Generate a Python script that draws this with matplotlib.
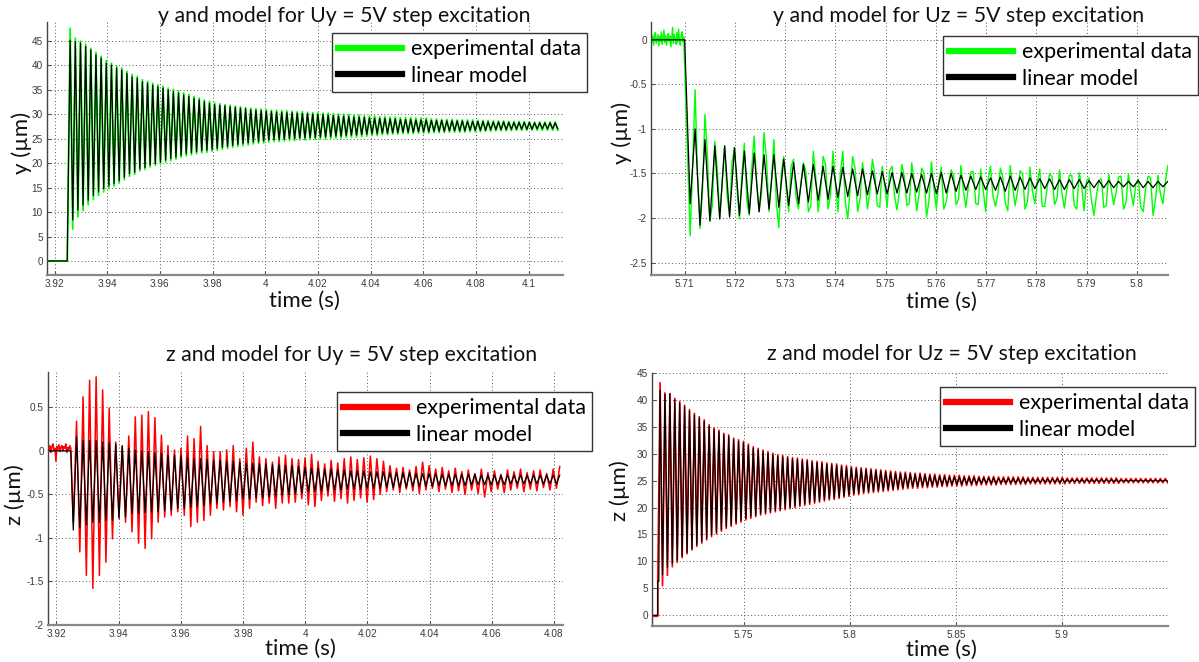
import numpy as np
import matplotlib
matplotlib.use('Agg')
import matplotlib.pyplot as plt
from matplotlib.lines import Line2D

plt.rcParams['font.family'] = ['Lato', 'DejaVu Sans']

# ---------------- data ----------------
# panel 1 : y for Uy = 5V step  (peaks / troughs of each cycle)
p1_xlim = (3.9171, 4.1131)
p1_ylim = (-2.86, 48.8)
p1_t_first = 3.9259          # first peak
p1_half = 0.00098            # half period
p1_lead_t = [3.9171, 3.9248, 3.9249]
p1_model_lead = [0.0, 0.0, 5.0]
p1_exp_lead = [0.0, 0.0, 4.9]
p1_model_pk = [45.1, 44.8, 44.5, 43.8, 43.1, 42.1, 41.4, 40.4, 40.0, 39.4,
               39.0, 38.3, 37.6, 37.3, 36.6, 36.3, 35.9, 35.6, 35.3, 34.9,
               34.6, 34.3, 33.9, 33.6, 33.2, 32.9, 32.5, 32.2, 31.9, 31.8,
               31.7, 31.5, 31.4, 31.2, 31.1, 30.9, 30.8, 30.7, 30.6, 30.5,
               30.4, 30.4, 30.3, 30.3, 30.2, 30.1, 30.1, 30.0, 29.9, 29.9,
               29.8, 29.7, 29.6, 29.6, 29.5, 29.4, 29.4, 29.3, 29.2, 29.2,
               29.1, 29.1, 29.0, 29.0, 28.9, 28.9, 28.9, 28.8, 28.8, 28.8,
               28.7, 28.7, 28.7, 28.6, 28.6, 28.6, 28.6, 28.5, 28.5, 28.5,
               28.5, 28.4, 28.4, 28.4, 28.4, 28.3, 28.3, 28.3, 28.3, 28.3,
               28.2, 28.2, 28.2, 28.2, 28.2]
p1_model_tr = [8.4, 10.4, 11.4, 12.4, 13.4, 14.1, 14.8, 15.4, 15.8, 16.4,
               17.1, 17.8, 18.1, 18.8, 19.1, 19.6, 19.9, 20.2, 20.6, 20.9,
               21.2, 21.6, 21.9, 22.1, 22.3, 22.5, 22.6, 22.8, 23.0, 23.2,
               23.4, 23.6, 23.8, 24.0, 24.1, 24.3, 24.4, 24.5, 24.7, 24.8,
               24.8, 24.9, 25.0, 25.0, 25.1, 25.1, 25.2, 25.2, 25.3, 25.3,
               25.4, 25.5, 25.5, 25.6, 25.7, 25.7, 25.8, 25.9, 26.0, 26.0,
               26.1, 26.1, 26.2, 26.2, 26.3, 26.3, 26.3, 26.4, 26.4, 26.4,
               26.5, 26.5, 26.5, 26.6, 26.6, 26.6, 26.6, 26.7, 26.7, 26.7,
               26.7, 26.8, 26.8, 26.8, 26.8, 26.9, 26.9, 26.9, 26.9, 26.9,
               27.0, 27.0, 27.0, 27.0, 27.0]
p1_exp_pk = [47.5, 45.5, 44.9, 44.3, 43.4, 42.6, 41.8, 40.9, 40.4, 39.8,
             39.4, 38.7, 38.1, 37.7, 37.0, 36.7, 36.3, 36.0, 35.7, 35.3,
             35.0, 34.7, 34.3, 34.0, 33.6, 33.3, 32.9, 32.6, 32.3, 32.1,
             31.9, 31.8, 31.6, 31.5, 31.3, 31.2, 31.1, 31.0, 30.9, 30.8,
             30.8, 30.7, 30.7, 30.6, 30.5, 30.5, 30.4, 30.3, 30.3, 30.2,
             30.2, 30.1, 30.0, 30.0, 29.9, 29.8, 29.8, 29.7, 29.6, 29.6,
             29.5, 29.5, 29.4, 29.4, 29.3, 29.3, 29.3, 29.2, 29.2, 29.2,
             29.0, 29.0, 28.9, 28.9, 28.9, 28.8, 28.8, 28.8, 28.8, 28.7,
             28.7, 28.7, 28.6, 28.6, 28.6, 28.5, 28.5, 28.5, 28.5, 28.4,
             28.4, 28.4, 28.4, 28.4, 28.4]
p1_exp_tr = [6.5, 9.0, 10.3, 11.5, 12.6, 13.4, 14.1, 14.8, 15.3, 15.9,
             16.6, 17.3, 17.7, 18.4, 18.7, 19.2, 19.5, 19.8, 20.2, 20.5,
             20.8, 21.2, 21.5, 21.7, 21.9, 22.1, 22.2, 22.4, 22.6, 22.8,
             23.0, 23.2, 23.4, 23.6, 23.7, 23.9, 24.0, 24.1, 24.3, 24.4,
             24.4, 24.5, 24.6, 24.6, 24.7, 24.7, 24.8, 24.8, 24.9, 24.9,
             25.0, 25.1, 25.1, 25.2, 25.3, 25.3, 25.4, 25.5, 25.6, 25.6,
             25.8, 25.8, 25.9, 25.9, 26.0, 26.0, 26.0, 26.1, 26.1, 26.1,
             26.2, 26.2, 26.2, 26.3, 26.3, 26.3, 26.3, 26.4, 26.4, 26.4,
             26.5, 26.5, 26.6, 26.6, 26.6, 26.6, 26.7, 26.7, 26.7, 26.7,
             26.7, 26.7, 26.7, 26.7, 26.7]
p1_xticks = [3.92, 3.94, 3.96, 3.98, 4.0, 4.02, 4.04, 4.06, 4.08, 4.1]
p1_xticklabels = ['3.92', '3.94', '3.96', '3.98', '4', '4.02', '4.04', '4.06', '4.08', '4.1']
p1_yticks = [0, 5, 10, 15, 20, 25, 30, 35, 40, 45]
p1_yticklabels = ['0', '5', '10', '15', '20', '25', '30', '35', '40', '45']

# panel 2 : y for Uz = 5V step  (troughs first)
p2_xlim = (5.7033, 5.8062)
p2_ylim = (-2.64, 0.2)
p2_t_first = 5.7111
p2_half = 0.00098
p2_model_lead_t = [5.7033, 5.7100]
p2_model_lead = [0.0, 0.0]
p2_exp_noise = [0.02, -0.03, 0.05, -0.06, 0.03, 0.08, -0.04, 0.01, 0.06, -0.07,
                0.04, -0.02, 0.09, -0.05, 0.02, 0.11, -0.03, 0.05, -0.06, 0.03,
                0.07, -0.02, 0.04, -0.08, 0.02, 0.14, -0.04, 0.06, 0.01, -0.05,
                0.08, -0.03, 0.12, 0.00, -0.06, 0.05, 0.09, -0.02, 0.03, -0.30]
p2_model_tr = [-1.84, -2.08, -2.03, -2.01, -1.99, -1.97, -1.95, -1.93, -1.90, -1.88,
               -1.86, -1.84, -1.82, -1.80, -1.79, -1.77, -1.76, -1.75, -1.74, -1.73,
               -1.73, -1.72, -1.72, -1.71, -1.72, -1.73, -1.72, -1.70, -1.69, -1.68,
               -1.68, -1.69, -1.70, -1.69, -1.68, -1.67, -1.67, -1.68, -1.68, -1.67,
               -1.67, -1.66, -1.66, -1.66, -1.65, -1.65, -1.66, -1.66, -1.65]
p2_model_pk = [-1.00, -1.12, -1.19, -1.19, -1.21, -1.25, -1.27, -1.29, -1.29, -1.34,
               -1.38, -1.40, -1.40, -1.42, -1.42, -1.43, -1.45, -1.45, -1.47, -1.48,
               -1.49, -1.49, -1.50, -1.51, -1.50, -1.49, -1.50, -1.52, -1.53, -1.54,
               -1.55, -1.54, -1.53, -1.54, -1.55, -1.56, -1.56, -1.57, -1.57, -1.57,
               -1.58, -1.58, -1.58, -1.59, -1.59, -1.58, -1.59, -1.59, -1.59]
p2_exp_tr = [-2.20, -2.12, -2.04, -2.01, -1.97, -2.01, -1.97, -1.93, -1.93, -2.11,
             -1.93, -1.90, -1.93, -1.93, -1.90, -1.93, -2.01, -1.93, -1.90, -1.86,
             -1.88, -1.91, -1.86, -1.92, -1.99, -1.90, -1.82, -1.85, -1.88, -1.84,
             -1.93, -1.87, -1.83, -1.86, -1.90, -1.84, -1.87, -1.85, -1.89, -1.86,
             -1.92, -1.97, -1.88, -1.85, -1.90, -1.86, -1.93, -1.97, -1.84]
p2_exp_pk = [-0.56, -0.84, -1.14, -1.19, -1.21, -1.16, -1.08, -1.04, -1.12, -1.31,
             -1.34, -1.38, -1.25, -1.31, -1.25, -1.25, -1.31, -1.38, -1.34, -1.42,
             -1.42, -1.40, -1.38, -1.44, -1.37, -1.43, -1.46, -1.41, -1.48, -1.45,
             -1.42, -1.44, -1.41, -1.47, -1.43, -1.45, -1.50, -1.46, -1.52, -1.49,
             -1.55, -1.58, -1.51, -1.54, -1.50, -1.56, -1.53, -1.52, -1.41]
# noisy samples between the turning points of the measured curve
p2_exp_mid = [-1.40, -1.55, -1.70, -1.30, -1.85, -1.45, -1.60, -1.75, -1.38, -1.66,
              -1.52, -1.80, -1.44, -1.62, -1.72, -1.35, -1.58, -1.83, -1.50, -1.65,
              -1.42, -1.77, -1.60, -1.48, -1.86, -1.55, -1.68, -1.40, -1.74, -1.61,
              -1.50, -1.82, -1.66, -1.45, -1.78, -1.58, -1.70, -1.52, -1.88, -1.63,
              -1.47, -1.75, -1.69, -1.55, -1.84, -1.60, -1.72, -1.50, -1.80, -1.66,
              -1.58, -1.90, -1.62, -1.52, -1.79, -1.70, -1.64, -1.48, -1.85, -1.68,
              -1.57, -1.76, -1.73, -1.55, -1.92, -1.65, -1.70, -1.50, -1.82, -1.69,
              -1.60, -1.87, -1.66, -1.54, -1.78, -1.72, -1.68, -1.52, -1.90, -1.64,
              -1.58, -1.80, -1.75, -1.56, -1.86, -1.67, -1.71, -1.53, -1.83, -1.70,
              -1.62, -1.88, -1.66, -1.55, -1.79, -1.73, -1.60, -1.50]
p2_xticks = [5.71, 5.72, 5.73, 5.74, 5.75, 5.76, 5.77, 5.78, 5.79, 5.80]
p2_xticklabels = ['5.71', '5.72', '5.73', '5.74', '5.75', '5.76', '5.77', '5.78', '5.79', '5.8']
p2_yticks = [-2.5, -2.0, -1.5, -1.0, -0.5, 0.0]
p2_yticklabels = ['-2.5', '-2', '-1.5', '-1', '-0.5', '0']

# panel 3 : z for Uy = 5V step  (troughs first)
p3_xlim = (3.91727, 4.0829)
p3_ylim = (-2.0, 0.905)
p3_t_first = 3.9254
p3_half = 0.00105
p3_model_lead_t = [3.91727, 3.9246]
p3_model_lead = [0.0, 0.0]
p3_exp_noise = [0.04, 0.01, 0.06, -0.02, 0.05, 0.08, 0.00, 0.03, -0.12, 0.05,
                0.02, 0.07, -0.01, 0.04, 0.06, 0.00, 0.05, 0.03, 0.08, -0.02,
                0.04, 0.01, 0.06, 0.03]
p3_model_tr = [-0.91, -0.88, -0.85, -0.82, -0.82, -0.80, -0.80, -0.78, -0.76, -0.72,
               -0.72, -0.71, -0.70, -0.70, -0.69, -0.68, -0.66, -0.66, -0.65, -0.64,
               -0.63, -0.61, -0.60, -0.59, -0.58, -0.57, -0.55, -0.55, -0.54, -0.54,
               -0.53, -0.52, -0.51, -0.50, -0.49, -0.48, -0.47, -0.47, -0.46, -0.46,
               -0.45, -0.45, -0.44, -0.44, -0.44, -0.43, -0.43, -0.43, -0.42, -0.42,
               -0.42, -0.42, -0.41, -0.41, -0.41, -0.41, -0.40, -0.40, -0.40, -0.40,
               -0.40, -0.39, -0.39, -0.39, -0.39, -0.39, -0.39, -0.38, -0.38, -0.38,
               -0.38, -0.38, -0.38, -0.38, -0.38]
p3_model_pk = [0.16, 0.12, 0.12, 0.12, 0.10, 0.09, 0.08, 0.06, 0.03, 0.01,
               0.00, -0.01, -0.02, -0.03, -0.05, -0.05, -0.06, -0.08, -0.09, -0.09,
               -0.10, -0.11, -0.11, -0.12, -0.12, -0.13, -0.14, -0.14, -0.15, -0.15,
               -0.16, -0.16, -0.17, -0.17, -0.18, -0.19, -0.20, -0.20, -0.21, -0.21,
               -0.22, -0.22, -0.23, -0.23, -0.23, -0.24, -0.24, -0.24, -0.25, -0.25,
               -0.25, -0.25, -0.26, -0.26, -0.26, -0.26, -0.27, -0.27, -0.27, -0.27,
               -0.27, -0.27, -0.28, -0.28, -0.28, -0.28, -0.28, -0.28, -0.28, -0.28,
               -0.28, -0.28, -0.28, -0.28, -0.28]
p3_exp_tr = [-0.82, -1.16, -1.43, -1.58, -1.43, -1.28, -1.01, -0.76, -0.82, -0.93,
             -1.06, -1.12, -1.01, -0.82, -0.76, -0.74, -0.70, -0.74, -0.87, -0.82,
             -0.80, -0.74, -0.66, -0.68, -0.64, -0.70, -0.74, -0.66, -0.59, -0.63,
             -0.60, -0.66, -0.60, -0.60, -0.59, -0.55, -0.62, -0.64, -0.57, -0.52,
             -0.58, -0.55, -0.60, -0.57, -0.54, -0.59, -0.56, -0.50, -0.47, -0.45,
             -0.48, -0.44, -0.46, -0.49, -0.45, -0.43, -0.47, -0.44, -0.48, -0.46,
             -0.50, -0.45, -0.49, -0.53, -0.47, -0.44, -0.48, -0.45, -0.43, -0.47,
             -0.44, -0.46, -0.42, -0.45, -0.43]
p3_exp_pk = [0.34, 0.62, 0.81, 0.85, 0.70, 0.49, 0.10, 0.05, 0.17, 0.39,
             0.41, 0.45, 0.38, 0.18, 0.06, 0.01, 0.03, 0.17, 0.14, 0.28,
             0.06, -0.01, -0.01, 0.01, 0.06, -0.09, 0.03, 0.10, -0.07, -0.09,
             -0.13, -0.07, -0.05, -0.09, -0.10, -0.08, -0.04, -0.12, -0.15, -0.11,
             -0.14, -0.09, -0.07, -0.10, -0.08, -0.06, -0.09, -0.12, -0.17, -0.20,
             -0.19, -0.22, -0.18, -0.13, -0.17, -0.21, -0.19, -0.23, -0.20, -0.24,
             -0.22, -0.26, -0.21, -0.25, -0.23, -0.27, -0.22, -0.24, -0.21, -0.25,
             -0.23, -0.22, -0.26, -0.21, -0.18]
p3_xticks = [3.92, 3.94, 3.96, 3.98, 4.0, 4.02, 4.04, 4.06, 4.08]
p3_xticklabels = ['3.92', '3.94', '3.96', '3.98', '4', '4.02', '4.04', '4.06', '4.08']
p3_yticks = [-2.0, -1.5, -1.0, -0.5, 0.0, 0.5]
p3_yticklabels = ['-2', '-1.5', '-1', '-0.5', '0', '0.5']

# panel 4 : z for Uz = 5V step  (peaks first)
p4_xlim = (5.7069, 5.9499)
p4_ylim = (-2.0, 45.0)
p4_t_first = 5.7107
p4_half = 0.001155
p4_lead_t = [5.7069, 5.7096, 5.70961, 5.7101]
p4_model_lead = [0.0, 0.0, 6.3, 6.3]
p4_exp_lead = [-0.2, -0.2, 6.3, 23.5]
p4_model_pk = [41.8, 41.0, 41.1, 40.0, 39.4, 38.7, 37.9, 37.2, 36.6, 36.0,
               35.1, 34.5, 34.1, 33.5, 33.2, 32.6, 32.3, 32.0, 31.5, 31.0,
               30.7, 30.4, 30.1, 29.8, 29.5, 29.4, 29.2, 29.0, 28.9, 28.7,
               28.6, 28.4, 28.3, 28.2, 28.0, 27.9, 27.8, 27.6, 27.5, 27.3,
               27.2, 27.1, 27.0, 26.9, 26.8, 26.7, 26.6, 26.5, 26.4, 26.3,
               26.3, 26.2, 26.1, 26.1, 26.0, 25.9, 25.9, 25.8, 25.8, 25.7,
               25.7, 25.7, 25.6, 25.6, 25.6, 25.5, 25.5, 25.5, 25.5, 25.4,
               25.4, 25.4, 25.4, 25.4, 25.4, 25.3, 25.3, 25.3, 25.3, 25.3,
               25.3, 25.3, 25.3, 25.2, 25.2, 25.2, 25.2, 25.2, 25.2, 25.2,
               25.2, 25.2, 25.2, 25.2, 25.1, 25.1, 25.1, 25.1, 25.1, 25.1,
               25.1, 25.1, 25.1, 25.1]
p4_model_tr = [7.5, 8.9, 9.6, 10.2, 11.0, 11.7, 12.4, 13.1, 13.7, 14.3,
               14.9, 15.4, 15.9, 16.4, 16.8, 17.2, 17.6, 18.0, 18.3, 18.6,
               18.9, 19.1, 19.3, 19.5, 19.7, 19.9, 20.1, 20.3, 20.5, 20.7,
               20.9, 21.1, 21.3, 21.5, 21.7, 21.8, 22.0, 22.2, 22.4, 22.6,
               22.7, 22.9, 23.0, 23.1, 23.2, 23.3, 23.4, 23.5, 23.6, 23.7,
               23.8, 23.9, 23.9, 24.0, 24.0, 24.1, 24.1, 24.2, 24.2, 24.3,
               24.3, 24.3, 24.4, 24.4, 24.4, 24.5, 24.5, 24.5, 24.5, 24.6,
               24.6, 24.6, 24.6, 24.6, 24.6, 24.7, 24.7, 24.7, 24.7, 24.7,
               24.7, 24.7, 24.7, 24.8, 24.8, 24.8, 24.8, 24.8, 24.8, 24.8,
               24.8, 24.8, 24.8, 24.8, 24.9, 24.9, 24.9, 24.9, 24.9, 24.9,
               24.9, 24.9, 24.9, 24.9]
p4_exp_pk = [43.2, 41.3, 41.2, 40.3, 39.7, 39.0, 38.2, 37.5, 36.9, 36.3,
             35.4, 34.8, 34.4, 33.8, 33.5, 32.9, 32.6, 32.3, 31.8, 31.3,
             31.0, 30.7, 30.4, 30.1, 29.8, 29.7, 29.5, 29.3, 29.2, 29.0,
             28.9, 28.7, 28.6, 28.5, 28.3, 28.2, 28.1, 27.9, 27.8, 27.6,
             27.5, 27.4, 27.3, 27.2, 27.1, 27.0, 26.9, 26.8, 26.7, 26.6,
             26.6, 26.5, 26.4, 26.4, 26.3, 26.2, 26.2, 26.1, 26.1, 26.0,
             26.0, 26.0, 25.9, 25.9, 25.9, 25.8, 25.8, 25.8, 25.8, 25.7,
             25.7, 25.7, 25.7, 25.7, 25.7, 25.6, 25.6, 25.6, 25.6, 25.6,
             25.6, 25.6, 25.6, 25.5, 25.5, 25.5, 25.5, 25.5, 25.5, 25.5,
             25.5, 25.5, 25.5, 25.5, 25.4, 25.4, 25.4, 25.4, 25.4, 25.4,
             25.4, 25.4, 25.4, 25.4]
p4_exp_tr = [5.5, 7.4, 9.0, 9.8, 10.7, 11.4, 12.1, 12.8, 13.4, 14.0,
             14.6, 15.1, 15.6, 16.1, 16.5, 16.9, 17.3, 17.7, 18.0, 18.3,
             18.6, 18.8, 19.0, 19.2, 19.4, 19.6, 19.8, 20.0, 20.2, 20.4,
             20.6, 20.8, 21.0, 21.2, 21.4, 21.5, 21.7, 21.9, 22.1, 22.3,
             22.4, 22.6, 22.7, 22.8, 22.9, 23.0, 23.1, 23.2, 23.3, 23.4,
             23.5, 23.6, 23.6, 23.7, 23.7, 23.8, 23.8, 23.9, 23.9, 24.0,
             24.0, 24.0, 24.1, 24.1, 24.1, 24.2, 24.2, 24.2, 24.2, 24.3,
             24.3, 24.3, 24.3, 24.3, 24.3, 24.4, 24.4, 24.4, 24.4, 24.4,
             24.4, 24.4, 24.4, 24.5, 24.5, 24.5, 24.5, 24.5, 24.5, 24.5,
             24.5, 24.5, 24.5, 24.5, 24.6, 24.6, 24.6, 24.6, 24.6, 24.6,
             24.6, 24.6, 24.6, 24.6]
p4_xticks = [5.75, 5.80, 5.85, 5.90]
p4_xticklabels = ['5.75', '5.8', '5.85', '5.9']
p4_yticks = [0, 5, 10, 15, 20, 25, 30, 35, 40, 45]
p4_yticklabels = ['0', '5', '10', '15', '20', '25', '30', '35', '40', '45']

titles = ['y and model for Uy = 5V step excitation',
          'y and model for Uz = 5V step excitation',
          'z and model for Uy = 5V step excitation',
          'z and model for Uz = 5V step excitation']
ylabels = ['y (\u00b5m)', 'y (\u00b5m)', 'z (\u00b5m)', 'z (\u00b5m)']
legend_labels = ['experimental data', 'linear model']


# ---------------- helpers ----------------
def zigzag(t_first, half, first, second, mid=None):
    n = min(len(first), len(second))
    if mid is None:
        v = np.column_stack([first[:n], second[:n]]).ravel()
        t = t_first + half * np.arange(2 * n)
    else:
        m = np.asarray(mid[:2 * n])
        v = np.column_stack([first[:n], m[0::2], second[:n], m[1::2]]).ravel()
        t = t_first + 0.5 * half * np.arange(4 * n)
    return t, v


def series(lead_t, lead_v, t_first, half, first, second, mid=None):
    t, v = zigzag(t_first, half, first, second, mid)
    return np.concatenate([lead_t, t]), np.concatenate([lead_v, v])


W, H = 1199, 662


def px_axes(fig, left, top, right, bottom):
    return fig.add_axes([left / W, 1 - bottom / H, (right - left) / W, (bottom - top) / H])


def style(ax, xlim, ylim, xt, xtl, yt, ytl):
    ax.set_xlim(xlim)
    ax.set_ylim(ylim)
    ax.set_xticks(xt)
    ax.set_xticklabels(xtl)
    ax.set_yticks(yt)
    ax.set_yticklabels(ytl)
    for lab in ax.get_xticklabels() + ax.get_yticklabels():
        lab.set_family('Liberation Sans')
        lab.set_fontsize(7.2)
        lab.set_color('#3a3a3a')
    ax.tick_params(direction='in', length=3, width=0.8, color='#555555', pad=3)
    ax.grid(True, color='#555555', linestyle=(0, (1, 2.5)), linewidth=0.7)
    ax.spines['top'].set_visible(False)
    ax.spines['right'].set_visible(False)
    ax.spines['left'].set_color('#444444')
    ax.spines['left'].set_linewidth(1.0)
    ax.spines['bottom'].set_color('#888888')
    ax.spines['bottom'].set_linewidth(1.6)


def legend(ax, color, x, y):
    handles = [Line2D([], [], color=color, lw=4.5), Line2D([], [], color='black', lw=4.5)]
    leg = ax.legend(handles, legend_labels, loc='upper left', bbox_to_anchor=(x / W, 1 - y / H),
                    bbox_transform=ax.figure.transFigure, borderaxespad=0, fontsize=15.5,
                    handlelength=2.95, handletextpad=0.4, borderpad=0.3, labelspacing=0.3,
                    fancybox=False, framealpha=1, edgecolor='#333333')
    leg.get_frame().set_linewidth(1.0)


fig = plt.figure(figsize=(W / 100, H / 100), dpi=100, facecolor='white')

# panel 1
ax1 = px_axes(fig, 47, 22, 563, 275)
t, v = series(p1_lead_t, p1_exp_lead, p1_t_first, p1_half, p1_exp_pk, p1_exp_tr)
ax1.plot(t, v, color='#00ff00', lw=1.3)
t, v = series(p1_lead_t, p1_model_lead, p1_t_first, p1_half, p1_model_pk, p1_model_tr)
ax1.plot(t, v, color='black', lw=0.9)
style(ax1, p1_xlim, p1_ylim, p1_xticks, p1_xticklabels, p1_yticks, p1_yticklabels)
legend(ax1, '#00ff00', 332, 33)

# panel 2
ax2 = px_axes(fig, 651, 22, 1168, 275)
noise_t = np.linspace(p2_xlim[0], 5.7100, len(p2_exp_noise))
t, v = series(noise_t, p2_exp_noise, p2_t_first, p2_half, p2_exp_tr, p2_exp_pk, p2_exp_mid)
ax2.plot(t, v, color='#00ff00', lw=1.0)
t, v = series(p2_model_lead_t, p2_model_lead, p2_t_first, p2_half, p2_model_tr, p2_model_pk)
ax2.plot(t, v, color='black', lw=0.9)
style(ax2, p2_xlim, p2_ylim, p2_xticks, p2_xticklabels, p2_yticks, p2_yticklabels)
legend(ax2, '#00ff00', 943, 36)

# panel 3
ax3 = px_axes(fig, 48, 372, 563, 625)
noise_t = np.linspace(p3_xlim[0], 3.9246, len(p3_exp_noise))
t, v = series(noise_t, p3_exp_noise, p3_t_first, p3_half, p3_exp_tr, p3_exp_pk)
ax3.plot(t, v, color='#ff0000', lw=1.1)
t, v = series(p3_model_lead_t, p3_model_lead, p3_t_first, p3_half, p3_model_tr, p3_model_pk)
ax3.plot(t, v, color='black', lw=0.9)
style(ax3, p3_xlim, p3_ylim, p3_xticks, p3_xticklabels, p3_yticks, p3_yticklabels)
legend(ax3, '#ff0000', 337, 392)

# panel 4
ax4 = px_axes(fig, 652, 373, 1168, 626)
t, v = series(p4_lead_t, p4_exp_lead, p4_t_first, p4_half, p4_exp_pk, p4_exp_tr)
ax4.plot(t, v, color='#ff0000', lw=1.2)
t, v = series(p4_lead_t, p4_model_lead, p4_t_first, p4_half, p4_model_pk, p4_model_tr)
ax4.plot(t, v, color='black', lw=0.9)
style(ax4, p4_xlim, p4_ylim, p4_xticks, p4_xticklabels, p4_yticks, p4_yticklabels)
legend(ax4, '#ff0000', 940, 387)

# titles and axis labels, placed where the original has them
title_pos = [(344, 16), (959, 16), (352, 355), (952, 354)]
xlabel_pos = [(304, 301), (941, 302), (300, 649), (941, 650)]
ylabel_pos = [(22, 143), (622, 133), (15, 495), (620, 491)]
for i in range(4):
    fig.text(title_pos[i][0] / W, 1 - title_pos[i][1] / H, titles[i], ha='center', va='center',
             fontsize=15.3, color='#111111')
    fig.text(xlabel_pos[i][0] / W, 1 - xlabel_pos[i][1] / H, 'time (s)', ha='center', va='center',
             fontsize=16, color='#111111')
    fig.text(ylabel_pos[i][0] / W, 1 - ylabel_pos[i][1] / H, ylabels[i], ha='center', va='center',
             rotation=90, fontsize=16, color='#111111')

fig.savefig('out.png', dpi=100)
